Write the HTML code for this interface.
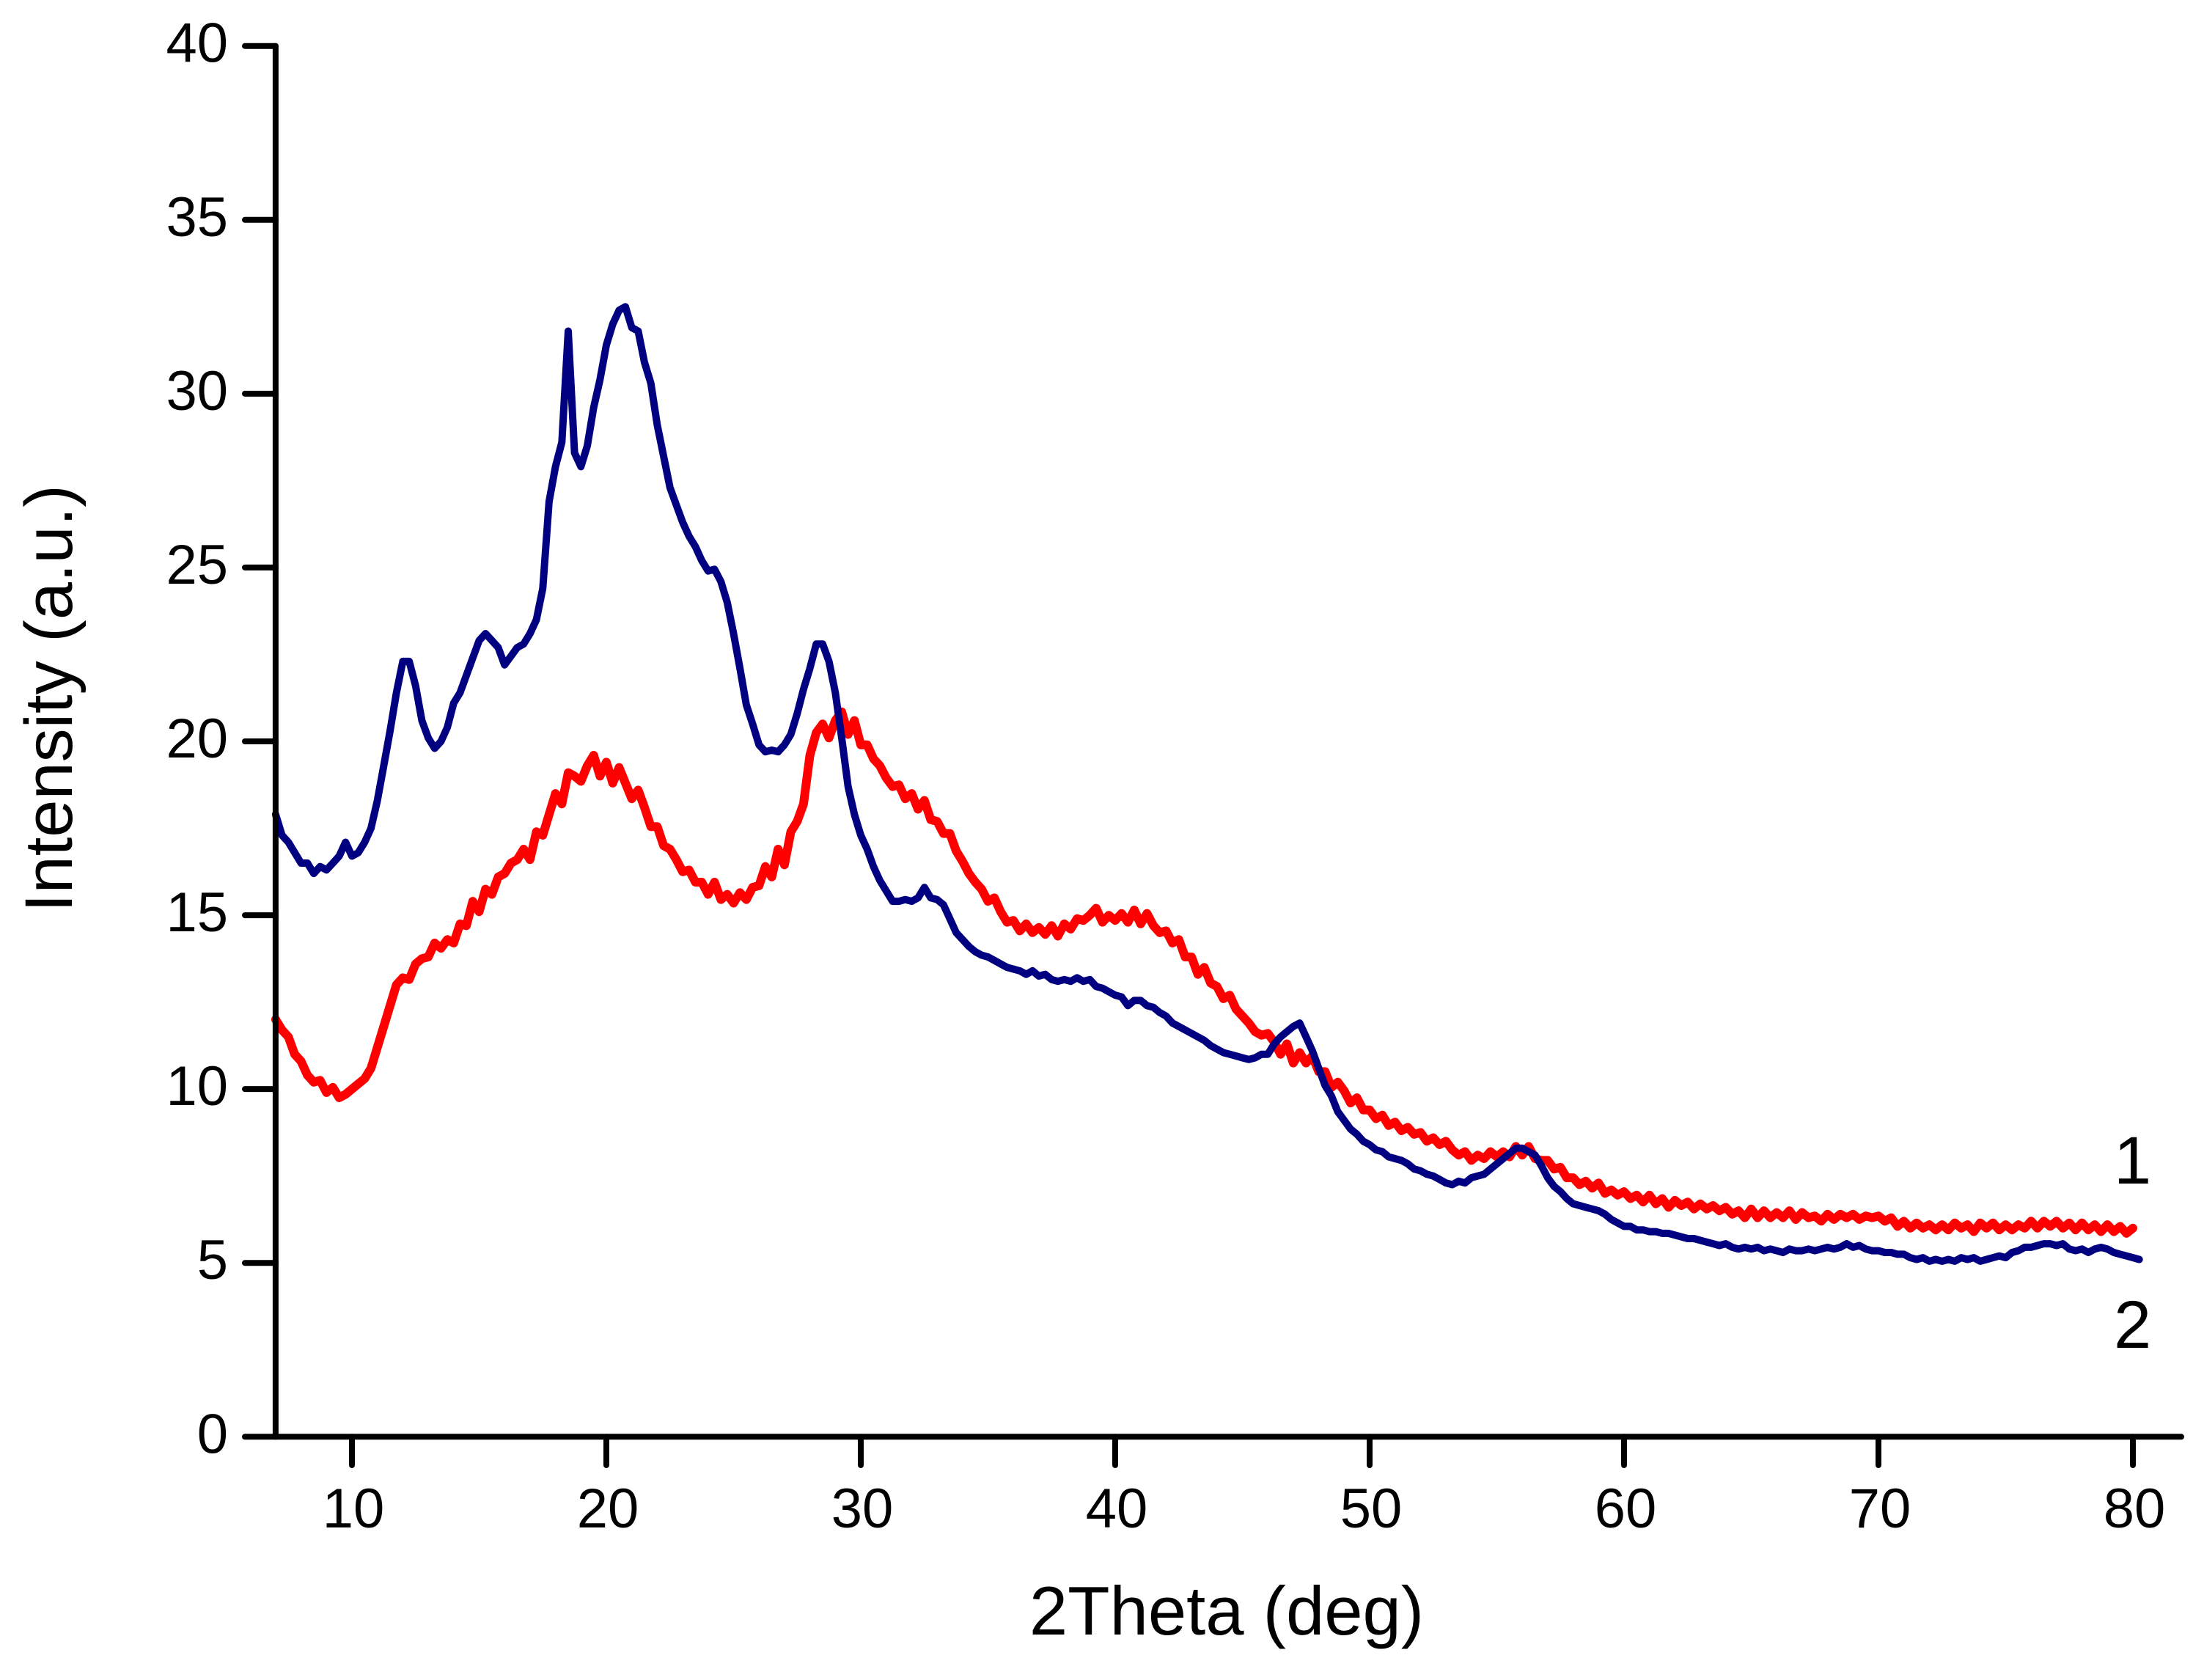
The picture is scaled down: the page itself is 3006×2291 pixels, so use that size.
<!DOCTYPE html>
<html lang="en">
<head>
<meta charset="utf-8">
<title>XRD intensity chart</title>
<style>
html,body{margin:0;padding:0;background:#fff;width:3006px;height:2291px;overflow:hidden}
svg{display:block}
text{font-family:"Liberation Sans",sans-serif;fill:#000}
</style>
</head>
<body>
<svg id="chart" xmlns="http://www.w3.org/2000/svg" width="3006" height="2291" viewBox="0 0 3006 2291">
<rect width="3006" height="2291" fill="#fff"/>
<g id="series"></g>
<g id="axes"></g>
<text x="1673" y="2229" font-size="94" text-anchor="middle">2Theta (deg)</text>
<text transform="translate(98,1244) rotate(-90)" font-size="92">Intensity (a.u.)</text>
<text x="2883" y="1614" font-size="92">1</text>
<text x="2883" y="1838" font-size="92">2</text>
</svg>
<script>
const xTicks = [10, 20, 30, 40, 50, 60, 70, 80];
const yTicks = [0, 5, 10, 15, 20, 25, 30, 35, 40];
const angleStart = 7;
const angleStep = 0.25;
const intensityCurve1 = [
12.0,11.7,11.5,11.0, 10.8,10.4,10.2,10.25, 9.9,10.05,9.75,9.85, 10.0,10.15,10.3,10.6,
11.2,11.8,12.4,13.0, 13.2,13.15,13.6,13.75, 13.8,14.2,14.05,14.3, 14.2,14.75,14.7,15.4,
15.1,15.75,15.6,16.1, 16.2,16.5,16.6,16.9, 16.6,17.4,17.3,17.9, 18.5,18.2,19.1,19.0,
18.85,19.3,19.6,19.0, 19.4,18.8,19.25,18.8, 18.35,18.6,18.1,17.55, 17.55,17.0,16.9,16.6,
16.25,16.3,15.95,15.95, 15.6,15.95,15.45,15.6, 15.35,15.65,15.45,15.8, 15.85,16.4,16.1,16.9,
16.45,17.4,17.7,18.2, 19.6,20.25,20.5,20.1, 20.6,20.85,20.2,20.6, 19.9,19.9,19.5,19.3,
18.95,18.7,18.75,18.35, 18.5,18.05,18.3,17.75, 17.7,17.35,17.35,16.85, 16.55,16.2,15.95,15.75,
15.4,15.5,15.1,14.8, 14.85,14.55,14.75,14.5, 14.65,14.45,14.7,14.4, 14.75,14.6,14.9,14.85,
15.0,15.2,14.8,15.0, 14.85,15.05,14.8,15.15, 14.75,15.05,14.7,14.5, 14.55,14.2,14.3,13.8,
13.8,13.3,13.5,13.05, 12.95,12.6,12.7,12.3, 12.1,11.9,11.65,11.55, 11.6,11.35,11.0,11.3,
10.75,11.05,10.75,10.95, 10.5,10.5,10.05,10.2, 9.95,9.6,9.75,9.4, 9.4,9.15,9.25,8.95,
9.05,8.8,8.9,8.7, 8.75,8.5,8.6,8.4, 8.5,8.25,8.1,8.2, 7.95,8.1,8.0,8.2,
8.05,8.2,8.05,8.35, 8.1,8.35,8.0,7.95, 7.95,7.7,7.75,7.45, 7.45,7.25,7.35,7.15,
7.3,7.0,7.1,6.95, 7.05,6.85,6.95,6.75, 6.95,6.7,6.85,6.6, 6.8,6.65,6.75,6.55,
6.7,6.55,6.65,6.5, 6.6,6.4,6.5,6.3, 6.55,6.3,6.5,6.3, 6.45,6.3,6.5,6.25,
6.45,6.3,6.35,6.2, 6.4,6.25,6.4,6.3, 6.4,6.25,6.35,6.3, 6.35,6.2,6.3,6.05,
6.2,6.0,6.15,6.0, 6.1,5.95,6.1,5.95, 6.15,6.0,6.1,5.9, 6.15,6.0,6.15,5.95,
6.1,5.95,6.1,6.0, 6.2,6.0,6.2,6.05, 6.2,6.0,6.15,5.95, 6.15,5.95,6.1,5.9,
6.1,5.9,6.05,5.85, 6.0
];
const intensityCurve2 = [
17.9,17.3,17.1,16.8, 16.5,16.5,16.2,16.4, 16.3,16.5,16.7,17.1, 16.7,16.8,17.1,17.5,
18.3,19.3,20.3,21.4, 22.3,22.3,21.6,20.6, 20.1,19.8,20.0,20.4, 21.1,21.4,21.9,22.4,
22.9,23.1,22.9,22.7, 22.2,22.45,22.7,22.8, 23.1,23.5,24.4,26.9, 27.9,28.6,31.8,28.3,
27.9,28.5,29.6,30.4, 31.4,32.0,32.4,32.5, 31.9,31.8,30.9,30.3, 29.1,28.2,27.3,26.8,
26.3,25.9,25.6,25.2, 24.9,24.95,24.6,24.0, 23.1,22.1,21.05,20.5, 19.9,19.7,19.75,19.7,
19.9,20.2,20.8,21.5, 22.1,22.8,22.8,22.3, 21.4,20.1,18.7,17.9, 17.3,16.9,16.4,16.0,
15.7,15.4,15.4,15.45, 15.4,15.5,15.8,15.5, 15.45,15.3,14.9,14.5, 14.3,14.1,13.95,13.85,
13.8,13.7,13.6,13.5, 13.45,13.4,13.3,13.4, 13.25,13.3,13.15,13.1, 13.15,13.1,13.2,13.1,
13.15,12.95,12.9,12.8, 12.7,12.65,12.4,12.55, 12.55,12.4,12.35,12.2, 12.1,11.9,11.8,11.7,
11.6,11.5,11.4,11.25, 11.15,11.05,11.0,10.95, 10.9,10.85,10.9,11.0, 11.0,11.3,11.5,11.65,
11.8,11.9,11.5,11.1, 10.6,10.1,9.8,9.35, 9.1,8.85,8.7,8.5, 8.4,8.25,8.2,8.05,
8.0,7.95,7.85,7.7, 7.65,7.55,7.5,7.4, 7.3,7.25,7.35,7.3, 7.45,7.5,7.55,7.7,
7.85,8.0,8.15,8.3, 8.3,8.2,8.1,7.8, 7.45,7.2,7.05,6.85, 6.7,6.65,6.6,6.55,
6.5,6.4,6.25,6.15, 6.05,6.05,5.95,5.95, 5.9,5.9,5.85,5.85, 5.8,5.75,5.7,5.7,
5.65,5.6,5.55,5.5, 5.55,5.45,5.4,5.45, 5.4,5.45,5.35,5.4, 5.35,5.3,5.4,5.35,
5.35,5.4,5.35,5.4, 5.45,5.4,5.45,5.55, 5.45,5.5,5.4,5.35, 5.35,5.3,5.3,5.25,
5.25,5.15,5.1,5.15, 5.05,5.1,5.05,5.1, 5.05,5.15,5.1,5.15, 5.05,5.1,5.15,5.2,
5.15,5.3,5.35,5.45, 5.45,5.5,5.55,5.55, 5.5,5.55,5.4,5.35, 5.4,5.3,5.4,5.45,
5.4,5.3,5.25,5.2, 5.15,5.1
];

const NS = 'http://www.w3.org/2000/svg';
function xScale(v) { return 480 + (v - 10) * 34.7; }
function yScale(v) { return 1959.3 - v * 47.415; }
function make(tag, parent) {
  const el = document.createElementNS(NS, tag);
  parent.appendChild(el);
  return el;
}
function style(el, width) {
  el.setAttribute('stroke', '#000');
  el.setAttribute('stroke-width', width);
  el.setAttribute('stroke-linecap', 'round');
  el.setAttribute('stroke-linejoin', 'round');
  el.setAttribute('fill', 'none');
}
const axes = document.getElementById('axes');
const seriesGroup = document.getElementById('series');

const yAxis = make('line', axes);


yAxis.setAttribute('x1', xScale(angleStart));
yAxis.setAttribute('x2', xScale(angleStart));
yAxis.setAttribute('y1', yScale(40));
yAxis.setAttribute('y2', yScale(0));
style(yAxis, 8);

const xAxis = make('line', axes);


xAxis.setAttribute('x1', xScale(angleStart));
xAxis.setAttribute('x2', 2975);
xAxis.setAttribute('y1', yScale(0));
xAxis.setAttribute('y2', yScale(0));
style(xAxis, 8);

yTicks.forEach(function (t) {
  const tick = make('line', axes);
  
  
  tick.setAttribute('x1', 334);
  tick.setAttribute('x2', xScale(angleStart));
  tick.setAttribute('y1', yScale(t));
  tick.setAttribute('y2', yScale(t));
  style(tick, 8);
  const label = make('text', axes);
  
  
  label.setAttribute('x', 311);
  label.setAttribute('y', yScale(t) + 22);
  label.setAttribute('font-size', 76);
  label.setAttribute('text-anchor', 'end');
  label.textContent = t;
});

xTicks.forEach(function (t) {
  const tick = make('line', axes);
  
  
  tick.setAttribute('x1', xScale(t));
  tick.setAttribute('x2', xScale(t));
  tick.setAttribute('y1', yScale(0));
  tick.setAttribute('y2', 1998);
  style(tick, 8);
  const label = make('text', axes);
  
  
  label.setAttribute('x', xScale(t) + 2);
  label.setAttribute('y', 2083);
  label.setAttribute('font-size', 76);
  label.setAttribute('text-anchor', 'middle');
  label.textContent = t;
});

function pathFor(values) {
  return values.map(function (v, i) {
    const angle = angleStart + i * angleStep;
    return (i ? 'L' : 'M') + xScale(angle).toFixed(1) + ' ' + yScale(v).toFixed(1);
  }).join('');
}

const curve1 = make('path', seriesGroup);


curve1.setAttribute('d', pathFor(intensityCurve1));
curve1.setAttribute('fill', 'none');
curve1.setAttribute('stroke', '#ff0000');
curve1.setAttribute('stroke-width', 12);
curve1.setAttribute('stroke-linejoin', 'round');
curve1.setAttribute('stroke-linecap', 'round');

const curve2 = make('path', seriesGroup);


curve2.setAttribute('d', pathFor(intensityCurve2));
curve2.setAttribute('fill', 'none');
curve2.setAttribute('stroke', '#000080');
curve2.setAttribute('stroke-width', 10);
curve2.setAttribute('stroke-linejoin', 'round');
curve2.setAttribute('stroke-linecap', 'round');
</script>
</body>
</html>
